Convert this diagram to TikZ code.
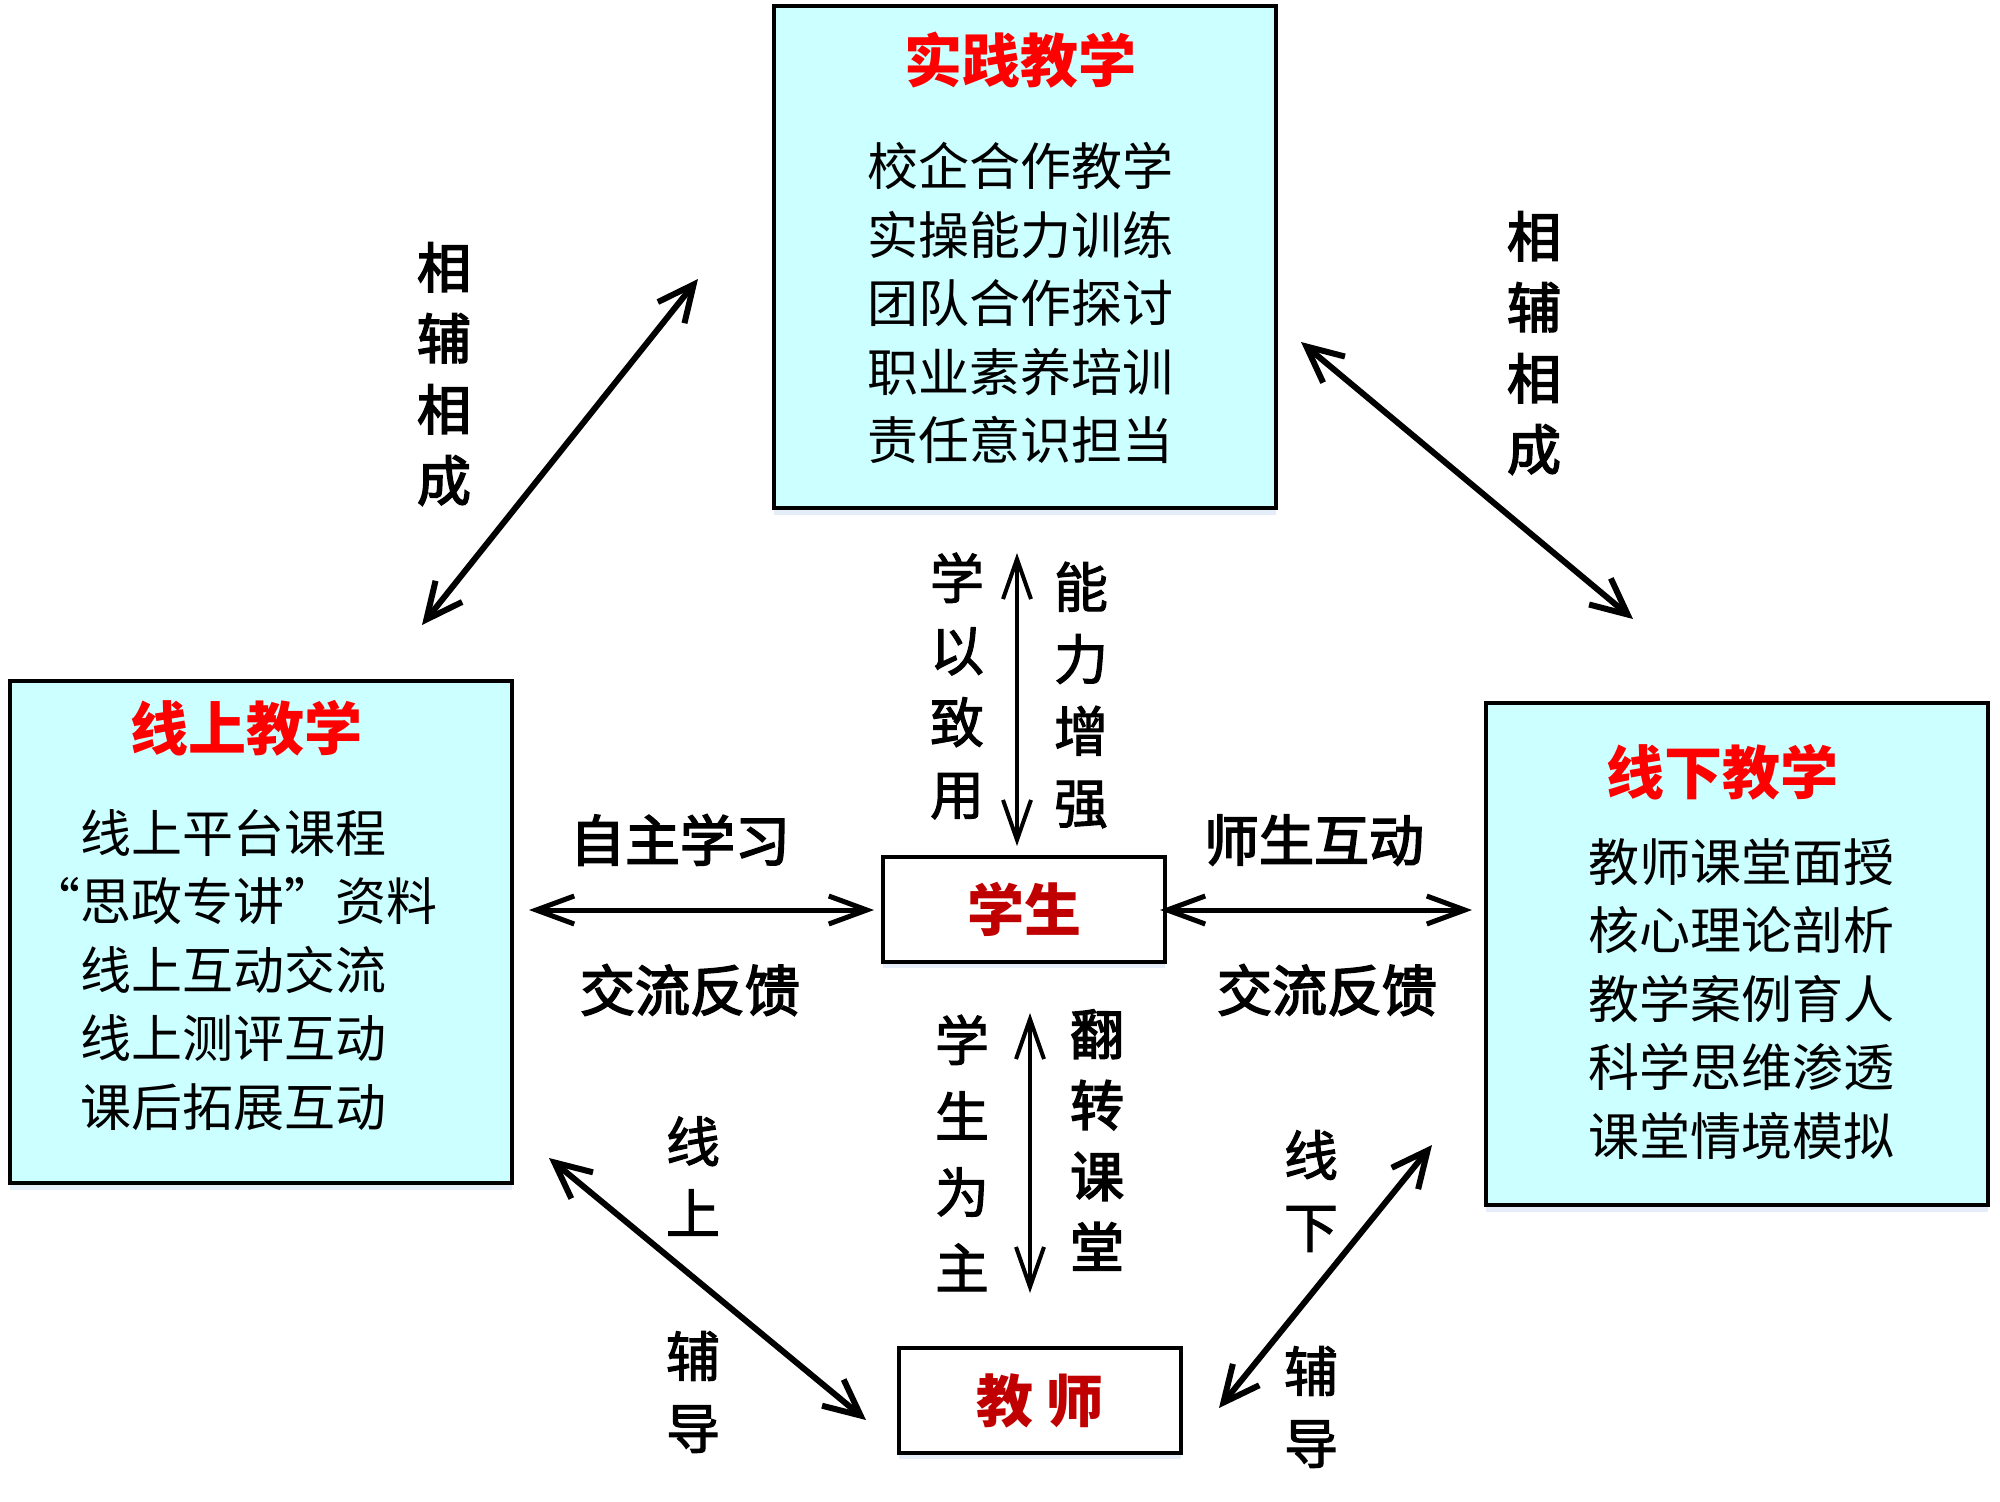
\documentclass[tikz,border=0pt]{standalone}
\usepackage{fontspec}
\setmainfont{Noto Sans CJK SC}
\newfontfamily\medfont[FakeBold=2]{Noto Sans CJK SC}
\newfontfamily\semifont[FakeBold=3]{Noto Sans CJK SC}
\usetikzlibrary{arrows.meta,shadows}
\definecolor{panelcyan}{RGB}{204,255,255}
\definecolor{titlered}{RGB}{255,0,0}
\definecolor{darkred}{RGB}{192,0,0}
\definecolor{shadowblue}{RGB}{222,234,246}
\begin{document}
\begin{tikzpicture}[x=1pt,y=-1pt,
  panel/.style={draw=black,line width=4pt,fill=panelcyan,minimum width=502pt,minimum height=502pt,inner sep=0pt,
    drop shadow={shadow xshift=0pt,shadow yshift=-7pt,fill=shadowblue,opacity=0.8}},
  actor/.style={draw=black,line width=4pt,fill=white,minimum width=282pt,minimum height=105pt,inner sep=0pt,
    drop shadow={shadow xshift=0pt,shadow yshift=-6pt,fill=shadowblue,opacity=0.8},
    font=\bfseries\fontsize{57}{60}\selectfont,text=darkred},
  ptitle/.style={font=\bfseries\fontsize{58}{60}\selectfont,text=titlered,inner sep=0pt},
  plines/.style={font=\fontsize{51}{68.5}\selectfont,inner sep=0pt},
  boldlab/.style={font=\semifont\fontsize{54}{71}\selectfont,align=center,inner sep=0pt},
  medlab/.style={font=\medfont\fontsize{54}{72}\selectfont,align=center,inner sep=0pt},
  hlab/.style={font=\semifont\fontsize{55}{60}\selectfont,inner sep=0pt},
  dbl/.style={{Straight Barb[length=36pt,width=34pt]}-{Straight Barb[length=36pt,width=34pt]},line width=6pt},
  dblh/.style={{Straight Barb[length=38pt,width=28pt]}-{Straight Barb[length=38pt,width=28pt]},line width=5pt},
  dblv/.style={{Straight Barb[length=40pt,width=28pt]}-{Straight Barb[length=40pt,width=28pt]},line width=4pt}
]
\useasboundingbox (0,0) rectangle (2000,1502);

% panels
\node[panel] (top) at (1025,257) {};
\node[panel] (left) at (260.5,932) {};
\node[panel] (right) at (1737,954) {};

% titles
\node[ptitle] (toptitle) at (1020,60) {实践教学};
\node[ptitle] (lefttitle) at (246,728) {线上教学};
\node[ptitle] (righttitle) at (1722,772) {线下教学};

% panel contents
\node[plines,align=center] (toplines) at (1020,303) {校企合作教学\\实操能力训练\\团队合作探讨\\职业素养培训\\责任意识担当};
\node[plines,align=left,anchor=west] (leftlines) at (80,970) {线上平台课程\\\llap{“}思政专讲\makebox[1em][l]{”}资料\\线上互动交流\\线上测评互动\\课后拓展互动};
\node[plines,align=left,anchor=west] (rightlines) at (1588,999) {教师课堂面授\\核心理论剖析\\教学案例育人\\科学思维渗透\\课堂情境模拟};

% actors
\node[actor] (student) at (1024,909.5) {学生};
\node[actor] (teacher) at (1040,1400.5) {教 师};

% arrow end points
\coordinate (tlA) at (422,625);
\coordinate (tlB) at (698,279);
\coordinate (trA) at (1301,342);
\coordinate (trB) at (1633,619);
\coordinate (blA) at (549,1158);
\coordinate (blB) at (866,1420);
\coordinate (brA) at (1432,1145);
\coordinate (brB) at (1219,1408);
\coordinate (hlA) at (529,910);
\coordinate (hlB) at (874,910);
\coordinate (hrA) at (1160,910);
\coordinate (hrB) at (1472,910);
\coordinate (vtA) at (1017,553);
\coordinate (vtB) at (1017,846);
\coordinate (vbA) at (1030,1013);
\coordinate (vbB) at (1030,1293);

\draw[dbl] (tlA) -- (tlB);
\draw[dbl] (trA) -- (trB);
\draw[dbl] (blA) -- (blB);
\draw[dbl] (brA) -- (brB);
\draw[dblh] (hlA) -- (hlB);
\draw[dblh] (hrA) -- (hrB);
\draw[dblv] (vtA) -- (vtB);
\draw[dblv] (vbA) -- (vbB);

% labels
\node[boldlab] (lab1) at (444,374) {相\\辅\\相\\成};
\node[boldlab] (lab2) at (1534,343) {相\\辅\\相\\成};
\node[medlab] (lab3) at (957,686) {学\\以\\致\\用};
\node[medlab] (lab4) at (1081,695) {能\\力\\增\\强};
\node[hlab] (lab5) at (680,840) {自主学习};
\node[hlab] (lab6) at (690,990) {交流反馈};
\node[hlab] (lab7) at (1314,840) {师生互动};
\node[hlab] (lab8) at (1327,990) {交流反馈};
\node[medlab,font=\medfont\fontsize{54}{76}\selectfont] (lab9) at (962,1153) {学\\生\\为\\主};
\node[boldlab] (lab10) at (1097,1140) {翻\\转\\课\\堂};
\node[medlab] (lab11) at (693,1176) {线\\上};
\node[medlab] (lab12) at (693,1392) {辅\\导};
\node[medlab] (lab13) at (1311,1191) {线\\下};
\node[medlab] (lab14) at (1311,1407) {辅\\导};
\end{tikzpicture}
\end{document}
